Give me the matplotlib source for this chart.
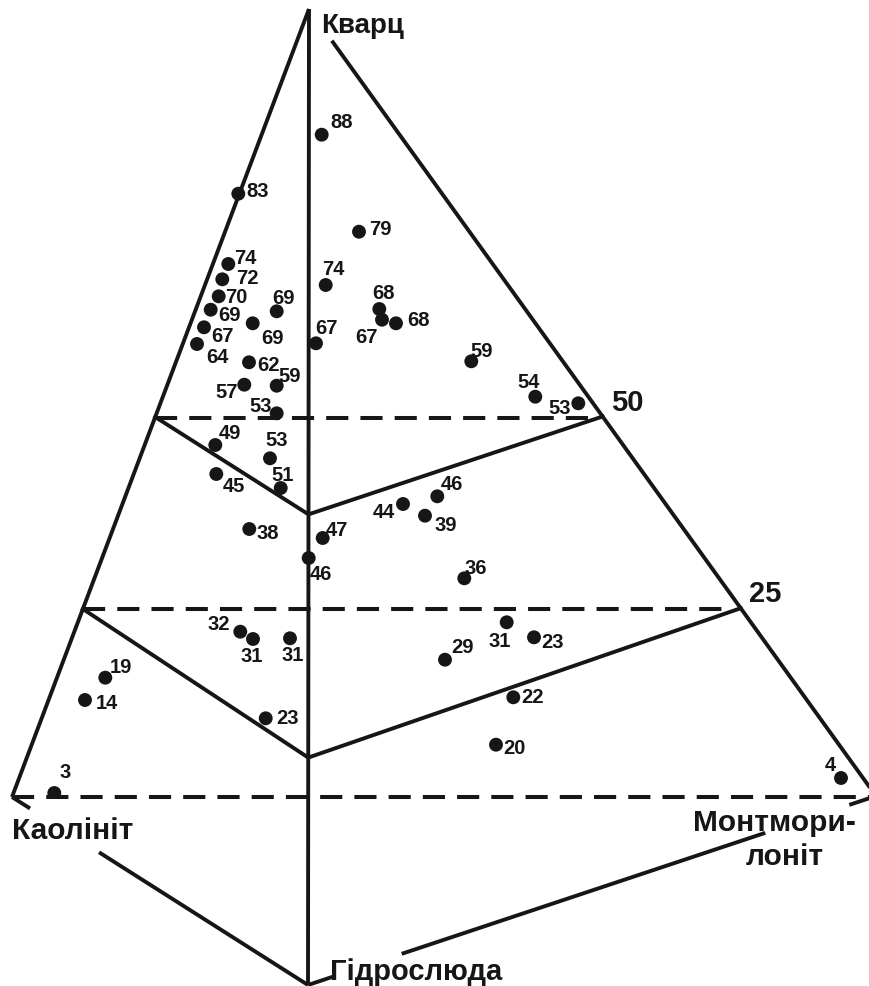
import numpy as np
import matplotlib
matplotlib.use("Agg")
import matplotlib.pyplot as plt
from matplotlib.patches import Rectangle

# ---------------- data (projected pyramid coordinates, image units) ----------------
# pyramid vertices
apex_quartz = (309.0, 10.0)
corner_kaolinite = (12.0, 798.0)
corner_montmorillonite = (876.0, 797.0)
corner_hydromica = (308.0, 986.0)

# section levels (fraction from apex along the edges to kaolinite, hydromica, montmorillonite)
level_names = ["50", "25"]
level_fractions = [(0.5178, 0.5178, 0.5178), (0.7614, 0.767, 0.7614)]

# samples: projected positions and quartz content labels
pt_x = [321.7, 238.3, 359.0, 228.3, 222.3, 218.7, 210.7, 204.0, 197.0, 276.7,
        252.7, 249.0, 244.3, 276.7, 276.7, 325.7, 316.0, 379.3, 382.0, 396.0,
        471.3, 535.3, 578.3, 215.3, 270.0, 216.3, 280.7, 249.3, 322.7, 308.7,
        403.0, 437.3, 425.0, 464.3, 240.3, 253.0, 290.0, 105.3, 85.0, 265.7,
        54.3, 506.7, 534.0, 445.0, 513.3, 496.0, 841.0]
pt_y = [135.7, 194.7, 232.7, 265.0, 280.3, 297.3, 310.7, 328.3, 345.0, 312.3,
        324.3, 363.3, 385.7, 386.7, 414.3, 286.0, 344.3, 310.0, 320.7, 324.3,
        362.3, 397.7, 404.3, 446.0, 459.3, 475.0, 489.0, 530.0, 539.0, 559.0,
        505.0, 497.3, 516.7, 579.3, 632.7, 640.0, 639.3, 678.7, 701.0, 719.3,
        794.0, 623.3, 638.3, 660.7, 698.3, 745.7, 779.0]
pt_label = [88, 83, 79, 74, 72, 70, 69, 67, 64, 69,
            69, 62, 57, 59, 53, 74, 67, 68, 67, 68,
            59, 54, 53, 49, 53, 45, 51, 38, 47, 46,
            44, 46, 39, 36, 32, 31, 31, 19, 14, 23,
            3, 31, 23, 29, 22, 20, 4]

# label placement relative to its dot (layout only)
label_offsets = [(20, -15), (19, -5), (21, -5), (17, -8), (25, -3), (18, -1), (19, 3), (19, 7), (20, 11), (7, -15),
                 (20, 13), (20, 1), (-18, 5), (13, -12), (-16, -9), (8, -18), (10, -17), (4, -18), (-16, 15), (23, -5),
                 (10, -12), (-7, -17), (-19, 3), (15, -14), (7, -20), (18, 10), (2, -15), (18, 2), (14, -10), (12, 14),
                 (-19, 6), (15, -14), (21, 7), (11, -12), (-22, -10), (-1, 15), (3, 15), (16, -13), (22, 1), (22, -2),
                 (11, -23), (-7, 17), (19, 3), (17, -15), (19, -2), (18, 1), (-11, -15)]

# ---------------- drawing ----------------
INK = "#161616"
FONT = ["Liberation Sans", "DejaVu Sans"]

fig = plt.figure(figsize=(8.69, 9.87), dpi=100)
ax = fig.add_axes([0, 0, 1, 1])
ax.set_xlim(0, 869)
ax.set_ylim(987, 0)
ax.axis("off")

A = np.array(apex_quartz)
K = np.array(corner_kaolinite)
M = np.array(corner_montmorillonite)
G = np.array(corner_hydromica)

LW = 2.8


def seg(P, Q, t0, t1, **kw):
    a = P + t0 * (Q - P)
    b = P + t1 * (Q - P)
    ax.plot([a[0], b[0]], [a[1], b[1]], color=INK, lw=LW, solid_capstyle="butt", **kw)


# pyramid edges
seg(A, K, 0, 1)
seg(A, G, 0, 1)
seg(A, M, 0.0403, 1)
seg(K, G, 0, 0.061)
seg(K, G, 0.294, 1)
seg(M, G, 0, 0.047)
seg(M, G, 0.195, 0.835)
seg(M, G, 0.9525, 1)

# base dashed line
ax.plot([K[0], 869], [K[1] - 0.5, K[1] - 0.5], color=INK, lw=2.9, dashes=[5.5, 3.0],
        dash_capstyle="butt", zorder=4)

# sections
for name, (fk, fg, fm) in zip(level_names, level_fractions):
    L = A + fk * (K - A)
    C = A + fg * (G - A)
    R = A + fm * (M - A)
    ax.plot([L[0], C[0], R[0]], [L[1], C[1], R[1]], color=INK, lw=LW,
            solid_joinstyle="miter")
    ax.plot([L[0], R[0] - 8], [L[1] + 0.5, L[1] + 0.5], color=INK, lw=2.9,
            dashes=[5.5, 3.0], dash_capstyle="butt", zorder=4)
    ax.text(R[0] + 8, R[1] - 7, name, fontsize=21, fontweight="bold", family=FONT,
            color=INK, ha="left", va="baseline")

# samples
sc = ax.scatter(pt_x, pt_y, s=100, color=INK, edgecolors="none", zorder=3)
clip = Rectangle((0, 0), 869, 797, transform=ax.transData)
sc.set_clip_path(clip)

for x, y, lab, (dx, dy) in zip(pt_x, pt_y, pt_label, label_offsets):
    ax.text(x + dx, y + dy + 7, str(lab), fontsize=14.5, fontweight="bold", family=FONT,
            color=INK, ha="center", va="baseline", zorder=5)

# vertex names
ax.text(321, 33, "Кварц", fontsize=20, fontweight="bold", family=FONT, color=INK,
        ha="left", va="baseline")
ax.text(12, 839, "Каолініт", fontsize=21.5, fontweight="bold", family=FONT, color=INK,
        ha="left", va="baseline")
ax.text(330, 980, "Гідрослюда", fontsize=21, fontweight="bold", family=FONT, color=INK,
        ha="left", va="baseline")
ax.text(856, 831, "Монтмори-", fontsize=21.5, fontweight="bold", family=FONT, color=INK,
        ha="right", va="baseline")
ax.text(785, 865, "лоніт", fontsize=21.5, fontweight="bold", family=FONT, color=INK,
        ha="center", va="baseline")

fig.savefig("out.png", dpi=100, facecolor="white")
